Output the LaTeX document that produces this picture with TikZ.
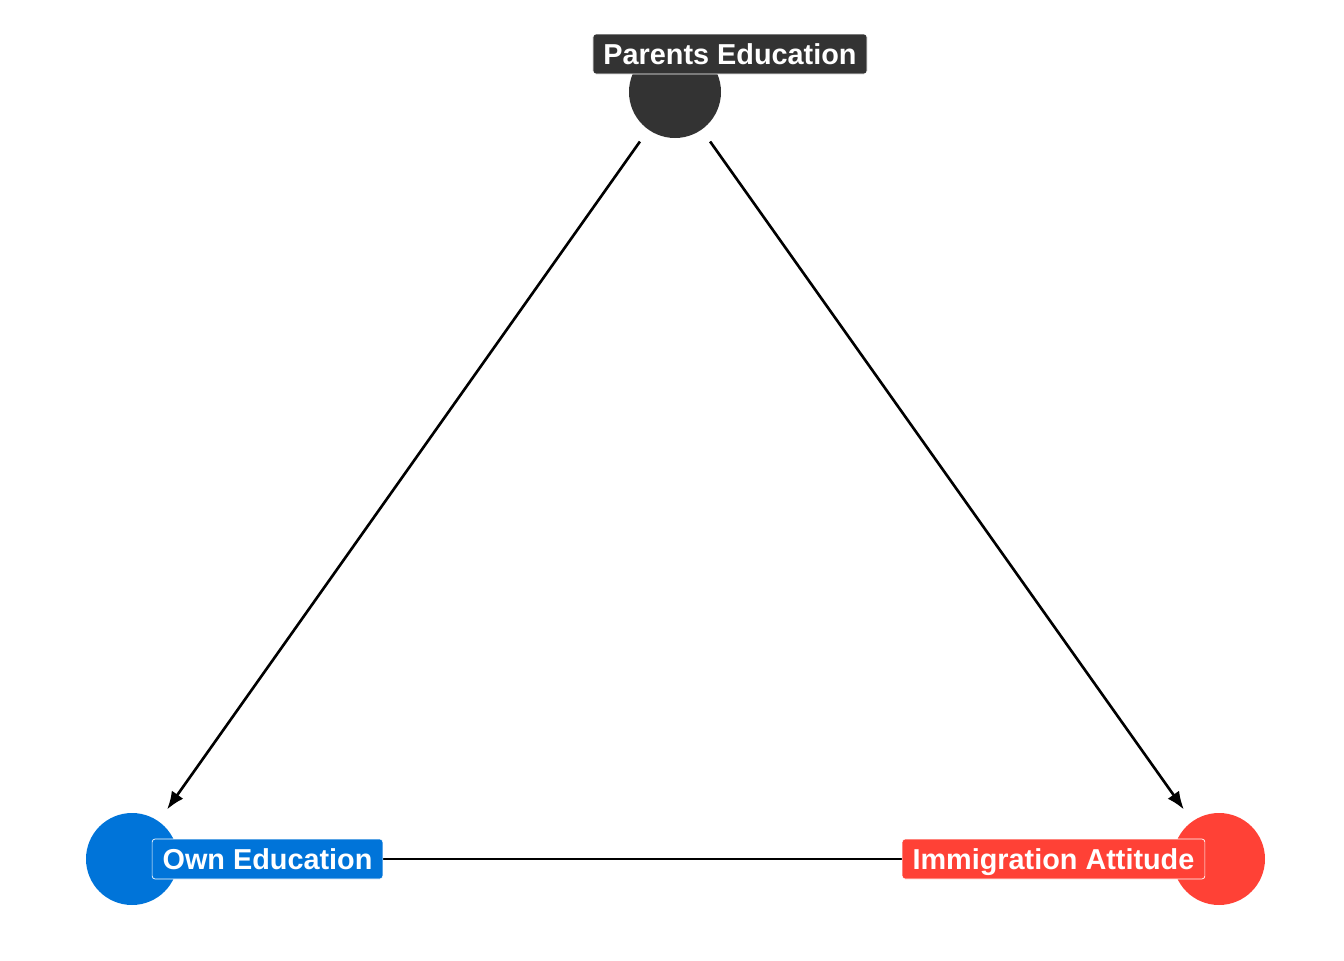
\documentclass[tikz,border=0pt]{standalone}
\usepackage{fontspec}
\setmainfont{Liberation Sans}
\usepackage{tikz}
\usetikzlibrary{arrows,arrows.meta}

\definecolor{darkgrey}{HTML}{333333}
\definecolor{ownblue}{HTML}{0074D9}
\definecolor{attred}{HTML}{FF4136}

\begin{document}
\begin{tikzpicture}[
    var/.style={circle, minimum size=0.92cm, inner sep=0pt},
    tag/.style={rounded corners=0.03cm, draw=white, line width=0.2pt, text=white,
        font=\bfseries\fontsize{8.2}{9.8}\selectfont, text height=0.23cm, text depth=0.03cm,
        inner xsep=0.105cm, inner ysep=0.07cm},
    edge/.style={line width=0.75pt, black},
    ]
% Drawing frame
\useasboundingbox (0,0) rectangle (13.44,9.6);

% Drawing variables
\node[var, fill=darkgrey] (parents) at (6.75,8.68) {};
\node[var, fill=ownblue] (own) at (1.32,1.01) {};
\node[var, fill=attred] (attitude) at (12.19,1.01) {};

% Drawing paths
\draw[edge, -{Latex[length=0.18cm,width=0.14cm]}, shorten <=0.14cm, shorten >=0.14cm] (parents) -- (own);
\draw[edge, -{Latex[length=0.18cm,width=0.14cm]}, shorten <=0.14cm, shorten >=0.14cm] (parents) -- (attitude);
\draw[edge] (own) -- (attitude);

% Drawing labels
\node[tag, fill=darkgrey] (parentstag) at (7.30,9.06) {Parents Education};
\node[tag, fill=ownblue] (owntag) at (2.675,1.01) {Own Education};
\node[tag, fill=attred] (attitudetag) at (10.535,1.01) {Immigration Attitude};
\end{tikzpicture}
\end{document}
